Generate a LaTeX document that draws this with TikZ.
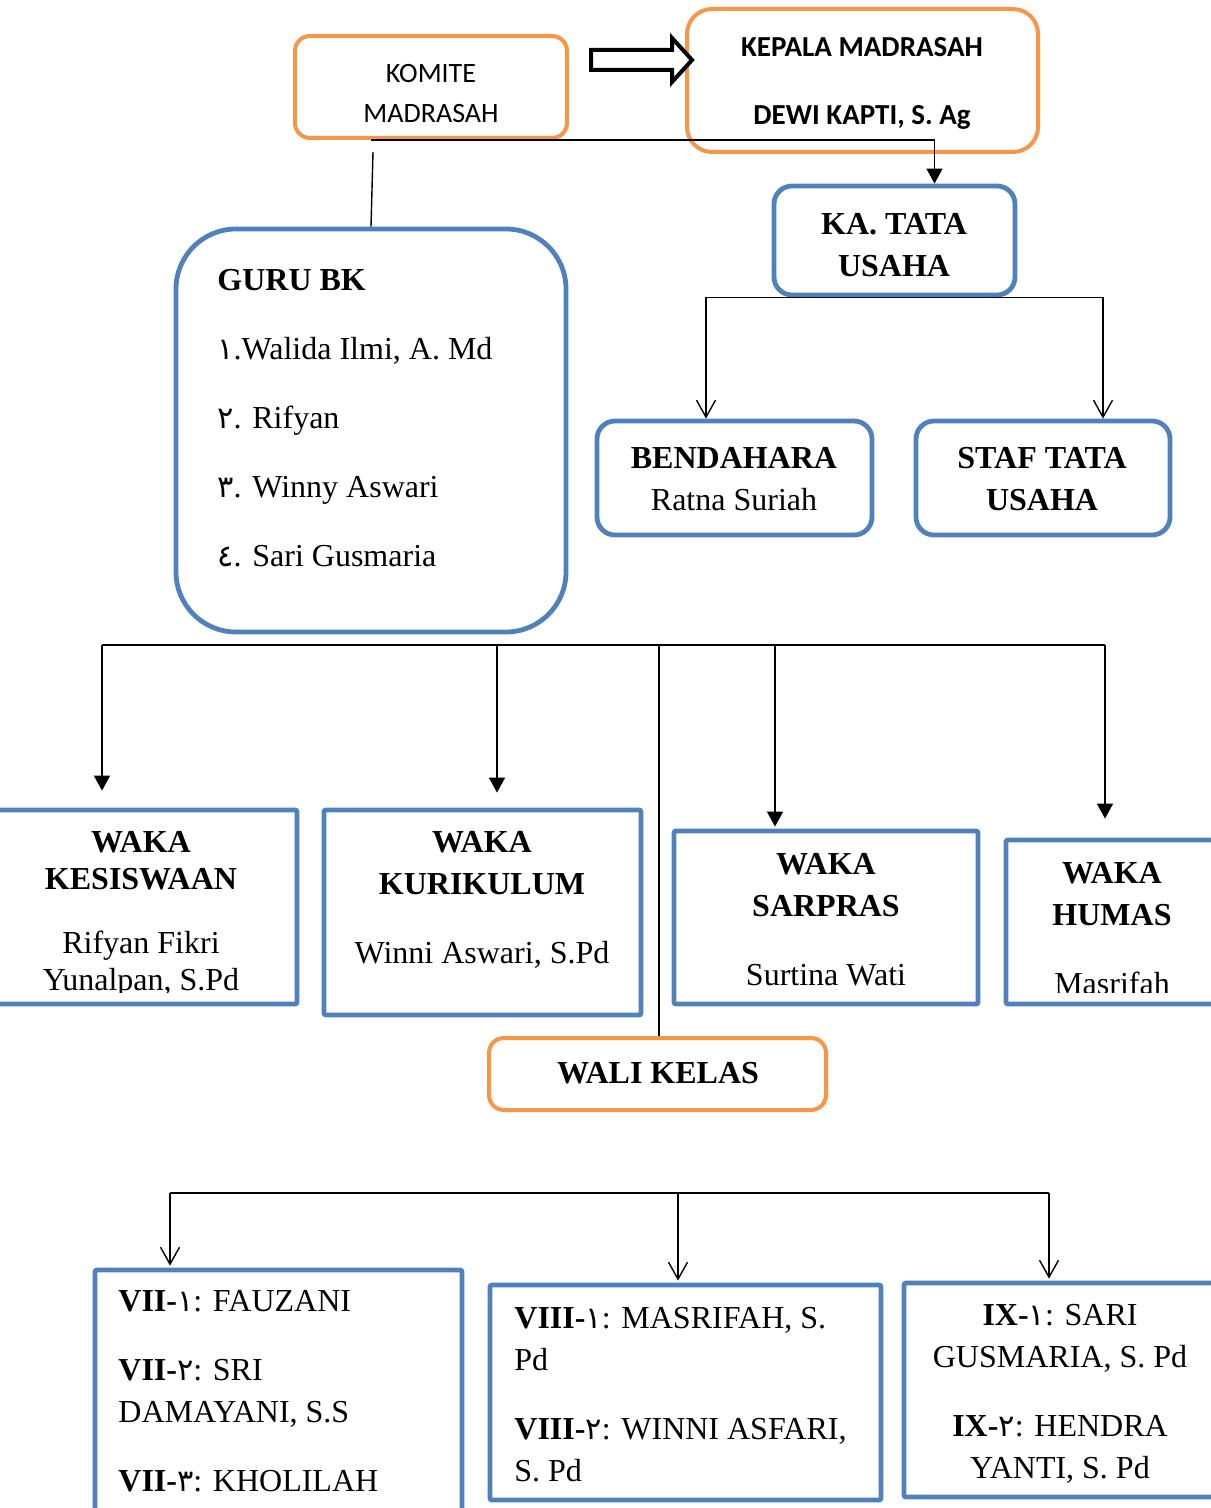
\documentclass[tikz,border=0pt]{standalone}
\usepackage{fontspec}
\setmainfont{Liberation Serif}
\newfontfamily\calib{Carlito}
\newfontfamily\arabicfont[Script=Arabic,Scale=0.95]{DejaVu Sans}
\usetikzlibrary{arrows.meta}
\definecolor{orangeC}{HTML}{F79646}
\definecolor{blueC}{HTML}{4F81BD}
\newcommand{\ardig}[1]{{\arabicfont #1}}
\begin{document}
\begin{tikzpicture}[x=0.5pt,y=-0.5pt,
 obox/.style={rectangle,draw=orangeC,line width=2pt,fill=white,inner sep=0pt},
 bbox/.style={rectangle,draw=blueC,line width=2.4pt,fill=white,inner sep=0pt},
 conn/.style={line width=0.7pt,draw=black},
 tri/.style={conn,-{Triangle[length=7.5pt,width=8pt]}},
 barb/.style={conn,-{Straight Barb[length=8.5pt,width=9.5pt]}},
 txt/.style={inner sep=0pt,font=\fontsize{16}{21}\selectfont},
 btxt/.style={inner sep=0pt,font=\bfseries\fontsize{16}{21}\selectfont},
 ctxt/.style={inner sep=0pt,font=\calib\fontsize{14}{20}\selectfont},
 cbtxt/.style={inner sep=0pt,font=\calib\bfseries\fontsize{14.5}{20}\selectfont},
]
\useasboundingbox (0,0) rectangle (1210,1508);
\fill[white] (0,0) rectangle (1210,1508);

% boxes
\node[obox,rounded corners=7.5pt,minimum width=136pt,minimum height=51pt] (komite) at (431,87) {};
\node[obox,rounded corners=12.5pt,minimum width=175.5pt,minimum height=71.5pt] (kepala) at (862.5,80.5) {};
\node[bbox,rounded corners=30pt,minimum width=195pt,minimum height=201.5pt] (gurubk) at (371,430.5) {};
\node[bbox,rounded corners=9pt,minimum width=120.5pt,minimum height=54.5pt] (katata) at (894.5,240.5) {};
\node[bbox,rounded corners=9pt,minimum width=137.5pt,minimum height=57pt] (bendahara) at (734.5,478) {};
\node[bbox,rounded corners=9pt,minimum width=127pt,minimum height=57pt] (staf) at (1043,478) {};
\node[bbox,rounded corners=1pt,minimum width=153.5pt,minimum height=97pt] (kesiswaan) at (143.5,907) {};
\node[bbox,rounded corners=1pt,minimum width=158.5pt,minimum height=102.5pt] (kurikulum) at (482.5,912.5) {};
\node[bbox,rounded corners=1pt,minimum width=152pt,minimum height=86.5pt] (sarpras) at (826,917.5) {};
\node[bbox,rounded corners=1pt,minimum width=107pt,minimum height=82pt] (humas) at (1113,922) {};
\node[obox,rounded corners=7.5pt,minimum width=168.5pt,minimum height=36pt] (wali) at (657.5,1074) {};
\node[bbox,rounded corners=1pt,minimum width=183.5pt,minimum height=130pt] (vii) at (278.5,1400) {};
\node[bbox,rounded corners=1pt,minimum width=195.5pt,minimum height=107.5pt] (viii) at (685.5,1392.5) {};
\node[bbox,rounded corners=1pt,minimum width=158pt,minimum height=107pt] (ix) at (1062,1390) {};

% block arrow
\draw[line width=2pt,fill=white,line join=miter] (591,50) -- (672,50) -- (672,38) -- (692,60) -- (672,82) -- (672,70) -- (591,70) -- cycle;

% connectors
\draw[tri] ([xshift=-30pt]komite.south) -| ([xshift=20pt]katata.north);
\draw[conn] ([xshift=-29pt,yshift=-6pt]komite.south) -- (gurubk.north);
\draw[conn,{Straight Barb[length=8.5pt,width=9.5pt]}-{Straight Barb[length=8.5pt,width=9.5pt]}]
  ([xshift=-14.25pt]bendahara.north) -- ([xshift=-14.25pt]bendahara.north |- katata.south)
  -- ([xshift=30pt]staf.north |- katata.south) -- ([xshift=30pt]staf.north);

\coordinate (hubL) at (102,645);
\coordinate (hubR) at (1105,645);
\draw[conn] (hubL) -- (hubR);
\draw[tri] (hubL) -- ([xshift=-20.75pt,yshift=8.5pt]kesiswaan.north);
\draw[tri] ([xshift=7.25pt]kurikulum.north |- hubL) -- ([xshift=7.25pt,yshift=7.5pt]kurikulum.north);
\draw[tri] ([xshift=-25.5pt]sarpras.north |- hubL) -- ([xshift=-25.5pt,yshift=1pt]sarpras.north);
\draw[tri] (hubR) -- ([xshift=-4pt,yshift=9.5pt]humas.north);
\draw[conn] ([xshift=0.75pt]wali.north |- hubL) -- ([xshift=0.75pt]wali.north);

\coordinate (hbL) at (170,1193);
\coordinate (hbR) at (1049,1193);
\draw[conn] (hbL) -- (hbR);
\draw[barb] (hbL) -- ([xshift=-54.25pt,yshift=1pt]vii.north);
\draw[barb] ([xshift=-3.75pt]viii.north |- hbL) -- ([xshift=-3.75pt,yshift=1pt]viii.north);
\draw[barb] (hbR) -- ([xshift=-6.5pt,yshift=1pt]ix.north);

% texts
\node[ctxt,anchor=north,align=center] (komiteT) at (431,54) {\strut KOMITE\\MADRASAH};
\node[cbtxt,anchor=north,align=center] (kepalaT) at (862,28) {\strut KEPALA MADRASAH\\[14pt]DEWI KAPTI, S. Ag};
\node[txt,anchor=north west,align=left] (gurubkT) at (217,261) {\strut\textbf{GURU BK}\\[13.5pt]\ardig{١}.Walida Ilmi, A. Md\\[13.5pt]\ardig{٢}. Rifyan\\[13.5pt]\ardig{٣}. Winny Aswari\\[13.5pt]\ardig{٤}. Sari Gusmaria};
\node[btxt,anchor=north,align=center] (katataT) at (894,205) {\strut KA. TATA\\USAHA};
\node[txt,anchor=north,align=center] (bendaharaT) at (734,439) {\strut\textbf{BENDAHARA}\\Ratna Suriah};
\node[btxt,anchor=north,align=center] (stafT) at (1042,439) {\strut STAF TATA\\USAHA};
\begin{scope}
\clip (-10,812) rectangle (296,992);
\node[txt,anchor=north,align=center,font=\fontsize{16}{18.5}\selectfont] (kesiswaanT) at (141,826.6) {\strut\textbf{WAKA}\\\textbf{KESISWAAN}\\[13.5pt]Rifyan Fikri\\Yunalpan, S.Pd};
\end{scope}
\node[txt,anchor=north,align=center] (kurikulumT) at (482,823) {\strut\textbf{WAKA}\\\textbf{KURIKULUM}\\[13.5pt]Winni Aswari, S.Pd};
\node[txt,anchor=north,align=center] (sarprasT) at (826,845) {\strut\textbf{WAKA}\\\textbf{SARPRAS}\\[13.5pt]Surtina Wati};
\begin{scope}
\clip (1008,842) rectangle (1220,992);
\node[txt,anchor=north,align=center] (humasT) at (1112,854) {\strut\textbf{WAKA}\\\textbf{HUMAS}\\[13.5pt]Masrifah};
\end{scope}
\node[btxt,anchor=north,align=center] (waliT) at (658,1054) {\strut WALI KELAS};
\node[txt,anchor=north west,align=left] (viiT) at (118,1282) {\strut\textbf{VII-}\ardig{١}: FAUZANI\\[13.5pt]\textbf{VII-}\ardig{٢}: SRI\\DAMAYANI, S.S\\[13.5pt]\textbf{VII-}\ardig{٣}: KHOLILAH};
\node[txt,anchor=north west,align=left] (viiiT) at (514,1299) {\strut\textbf{VIII-}\ardig{١}: MASRIFAH, S.\\Pd\\[13.5pt]\textbf{VIII-}\ardig{٢}: WINNI ASFARI,\\S. Pd};
\node[txt,anchor=north,align=center] (ixT) at (1060,1296) {\strut\textbf{IX-}\ardig{١}: SARI\\GUSMARIA, S. Pd\\[13.5pt]\textbf{IX-}\ardig{٢}: HENDRA\\YANTI, S. Pd};
\end{tikzpicture}
\end{document}
